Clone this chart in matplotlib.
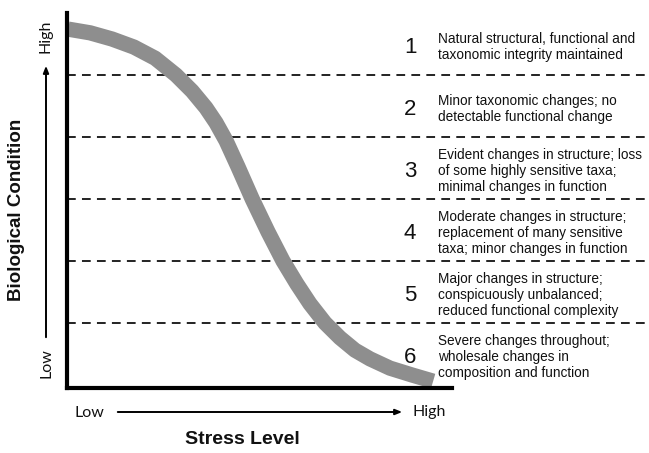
import matplotlib
matplotlib.use("Agg")
import matplotlib.pyplot as plt

W, H = 649, 453

# Data (stress level 0..10, biological condition in tier units 0..6)
stress = [0.03, 0.60, 1.17, 1.74, 2.29, 2.83, 3.25, 3.61, 3.87, 4.13, 4.44, 4.81,
          5.22, 5.61, 5.97, 6.31, 6.70, 7.09, 7.48, 7.87, 8.39, 8.96, 9.51]
condition = [5.74, 5.68, 5.58, 5.45, 5.27, 5.00, 4.74, 4.47, 4.23, 3.94, 3.52, 3.00,
             2.47, 2.00, 1.63, 1.31, 1.00, 0.76, 0.56, 0.42, 0.27, 0.16, 0.06]

tier_numbers = ["1", "2", "3", "4", "5", "6"]
tier_descriptions = [
    "Natural structural, functional and\ntaxonomic integrity maintained",
    "Minor taxonomic changes; no\ndetectable functional change",
    "Evident changes in structure; loss\nof some highly sensitive taxa;\nminimal changes in function",
    "Moderate changes in structure;\nreplacement of many sensitive\ntaxa; minor changes in function",
    "Major changes in structure;\nconspicuously unbalanced;\nreduced functional complexity",
    "Severe changes throughout;\nwholesale changes in\ncomposition and function",
]
tier_boundaries = [1, 2, 3, 4, 5]

plt.rcParams['font.family'] = ['Liberation Sans', 'DejaVu Sans']

fig = plt.figure(figsize=(W / 100, H / 100), dpi=100)

def fx(px):
    return px / W

def fy(py):
    return 1 - py / H

ax = fig.add_axes([fx(67), fy(388), fx(649) - fx(67), fy(13) - fy(388)])
ax.set_xlim(0, (649 - 67) / 38.5)
ax.set_ylim(-0.05, 6.0)
ax.set_xticks([])
ax.set_yticks([])
ax.patch.set_alpha(0)

for s in ['top', 'right']:
    ax.spines[s].set_visible(False)
ax.spines['left'].set_linewidth(3.0)
ax.spines['bottom'].set_linewidth(3.0)
ax.spines['bottom'].set_bounds(0, 10)
ax.spines['left'].set_capstyle('projecting')
ax.spines['bottom'].set_capstyle('projecting')

for b in tier_boundaries:
    ax.axhline(b, color='#222222', lw=1.4, ls=(0, (4.5, 3.2)), zorder=1)

ax.plot(stress, condition, color='#8e8e8e', lw=11, solid_capstyle='butt',
        solid_joinstyle='round', zorder=2)

for i, (num, desc) in enumerate(zip(tier_numbers, tier_descriptions)):
    yc = 6 - i - 0.5 - 0.05
    ax.text(8.91, yc, num, fontsize=16, ha='center', va='center', color='#111111')
    ax.text(9.64, yc + 0.0, desc, fontsize=9.8, ha='left', va='center',
            linespacing=1.18, color='#111111')

# Axis annotations
small = dict(family=['Lato', 'DejaVu Sans'], fontsize=11.5, color='#111111')
fig.text(fx(46), fy(36), "High", rotation=90, ha='center', va='center', **small)
fig.text(fx(46), fy(363), "Low", rotation=90, ha='center', va='center', **small)
fig.text(fx(89), fy(413), "Low", ha='center', va='center', **small)
fig.text(fx(413), fy(412), "High", ha='left', va='center', **small)

fig.patches.append(matplotlib.patches.FancyArrowPatch(
    (fx(46), fy(340)), (fx(46), fy(63)), transform=fig.transFigure,
    arrowstyle='-|>,head_length=4,head_width=1.6', lw=1.4, color='black'))
fig.patches.append(matplotlib.patches.FancyArrowPatch(
    (fx(115), fy(412)), (fx(405), fy(412)), transform=fig.transFigure,
    arrowstyle='-|>,head_length=4,head_width=1.6', lw=1.4, color='black'))

fig.text(fx(17), fy(210), "Biological Condition", rotation=90, ha='center', va='center',
         fontsize=13.5, fontweight='bold', color='#111111')
fig.text(fx(242), fy(440), "Stress Level", ha='center', va='center',
         fontsize=14, fontweight='bold', color='#111111')

fig.savefig("out.png", dpi=100)
